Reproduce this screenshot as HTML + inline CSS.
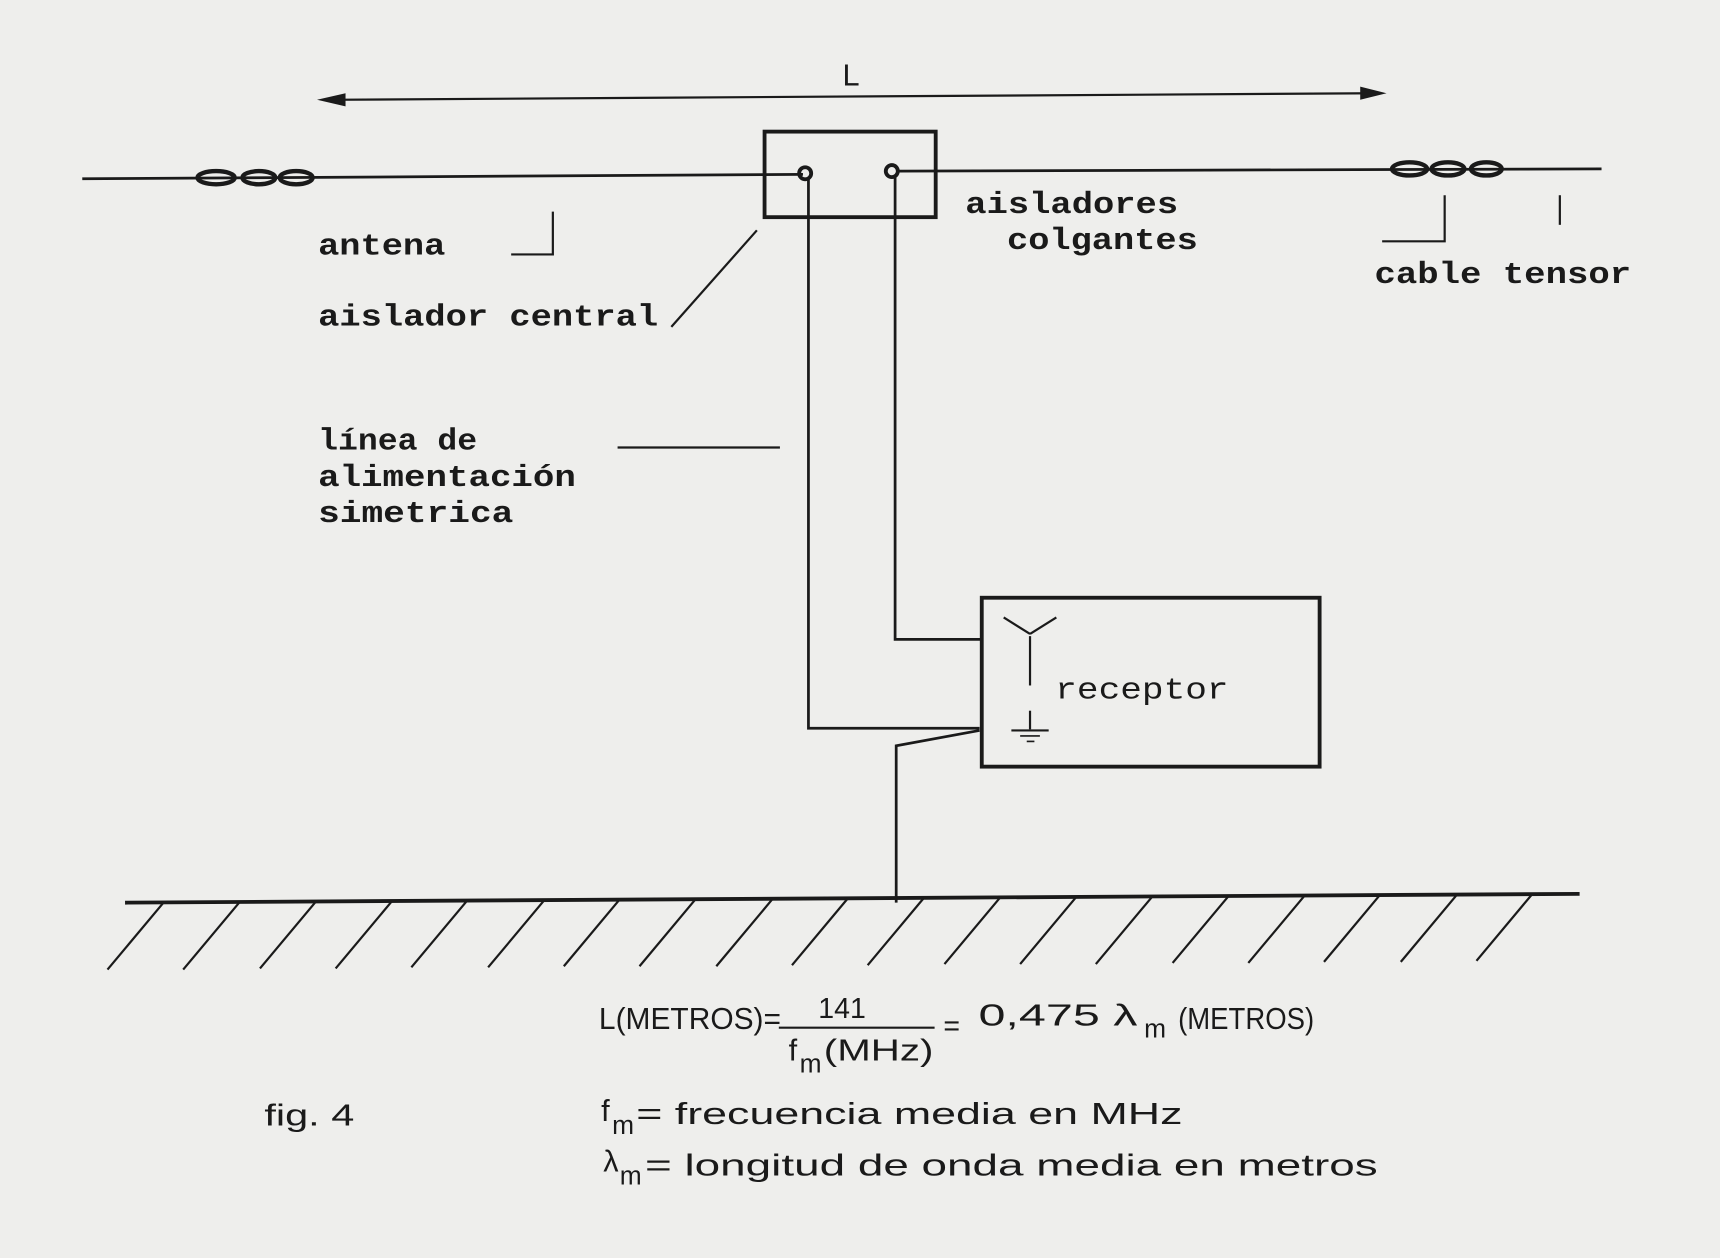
<!DOCTYPE html>
<html><head><meta charset="utf-8"><style>
html,body{margin:0;padding:0;background:#eeeeec;}
svg{display:block;}
.m{font-family:"Liberation Mono",monospace;font-weight:bold;fill:#1a1a1a;}
.s{font-family:"Liberation Sans",sans-serif;fill:#1a1a1a;}
</style></head><body>
<svg width="1720" height="1258" viewBox="0 0 1568 1147" preserveAspectRatio="none" xmlns="http://www.w3.org/2000/svg">
<rect width="1568" height="1147" fill="#eeeeec"/>
<g stroke="#1a1a1a" fill="none" stroke-width="2.5">
<line x1="300" y1="91" x2="1252" y2="85" stroke-width="2"/>
<polygon points="289,91 315,85 315,97" fill="#1a1a1a" stroke="none"/>
<polygon points="1264,85 1240,79 1240,91" fill="#1a1a1a" stroke="none"/>
<line x1="75" y1="163" x2="732" y2="159"/>
<ellipse cx="197" cy="162" rx="17" ry="6" stroke-width="4"/>
<ellipse cx="236" cy="162" rx="15" ry="6" stroke-width="4"/>
<ellipse cx="270" cy="162" rx="15" ry="6" stroke-width="4"/>
<line x1="818" y1="156" x2="1460" y2="154"/>
<ellipse cx="1285" cy="154" rx="16" ry="6" stroke-width="4"/>
<ellipse cx="1320" cy="154" rx="15" ry="6" stroke-width="4"/>
<ellipse cx="1355" cy="154" rx="14" ry="6" stroke-width="4"/>
<rect x="697" y="120" width="156" height="78" stroke-width="3.5"/>
<circle cx="734" cy="158" r="5.5" stroke-width="3.5"/>
<circle cx="813" cy="156" r="5.5" stroke-width="3.5"/>
<polyline points="737,163 737,664 893,664"/>
<polyline points="816,161 816,583 895,583"/>
<polyline points="893,666 817,680 817,823"/>
<rect x="895" y="545" width="308" height="154" stroke-width="3.5"/>
<line x1="939" y1="580" x2="939" y2="625" stroke-width="2"/>
<line x1="915" y1="563" x2="939" y2="578" stroke-width="2"/>
<line x1="963" y1="563" x2="939" y2="578" stroke-width="2"/>
<line x1="939" y1="648" x2="939" y2="665" stroke-width="2"/>
<line x1="922" y1="666" x2="956" y2="666" stroke-width="2"/>
<line x1="930" y1="671" x2="948" y2="671" stroke-width="1.5"/>
<line x1="936" y1="676" x2="943" y2="676" stroke-width="1.5"/>
<polyline points="466,232 504,232 504,193" stroke-width="2"/>
<line x1="612" y1="298" x2="690" y2="210" stroke-width="2"/>
<line x1="563" y1="408" x2="711" y2="408" stroke-width="2"/>
<polyline points="1260,220 1317,220 1317,178" stroke-width="2"/>
<line x1="1422" y1="178" x2="1422" y2="205" stroke-width="2"/>
<line x1="114" y1="823" x2="1440" y2="815" stroke-width="3.5"/>
<g stroke-width="2">
<line x1="149" y1="823" x2="98" y2="884"/>
<line x1="218" y1="823" x2="167" y2="884"/>
<line x1="288" y1="822" x2="237" y2="883"/>
<line x1="357" y1="822" x2="306" y2="883"/>
<line x1="426" y1="821" x2="375" y2="882"/>
<line x1="496" y1="821" x2="445" y2="882"/>
<line x1="565" y1="820" x2="514" y2="881"/>
<line x1="634" y1="820" x2="583" y2="881"/>
<line x1="704" y1="820" x2="653" y2="881"/>
<line x1="773" y1="819" x2="722" y2="880"/>
<line x1="842" y1="819" x2="791" y2="880"/>
<line x1="912" y1="818" x2="861" y2="879"/>
<line x1="981" y1="818" x2="930" y2="879"/>
<line x1="1050" y1="818" x2="999" y2="879"/>
<line x1="1120" y1="817" x2="1069" y2="878"/>
<line x1="1189" y1="817" x2="1138" y2="878"/>
<line x1="1258" y1="816" x2="1207" y2="877"/>
<line x1="1328" y1="816" x2="1277" y2="877"/>
<line x1="1397" y1="815" x2="1346" y2="876"/>
</g>
<line x1="710" y1="937" x2="852" y2="937" stroke-width="2"/>
</g>
<text class="s" x="768" y="78" font-size="28">L</text>
<text class="m" x="290" y="232" font-size="28" textLength="116" lengthAdjust="spacingAndGlyphs">antena</text>
<text class="m" x="290" y="297" font-size="28" textLength="310" lengthAdjust="spacingAndGlyphs">aislador central</text>
<text class="m" x="290" y="410" font-size="28" textLength="145" lengthAdjust="spacingAndGlyphs">línea de</text>
<text class="m" x="290" y="443" font-size="28" textLength="235" lengthAdjust="spacingAndGlyphs">alimentación</text>
<text class="m" x="290" y="476" font-size="28" textLength="178" lengthAdjust="spacingAndGlyphs">simetrica</text>
<text class="m" x="880" y="194" font-size="28" textLength="194" lengthAdjust="spacingAndGlyphs">aisladores</text>
<text class="m" x="918" y="227" font-size="28" textLength="174" lengthAdjust="spacingAndGlyphs">colgantes</text>
<text class="m" x="1253" y="258" font-size="28" textLength="234" lengthAdjust="spacingAndGlyphs">cable tensor</text>
<text class="m" x="962" y="637" font-size="28" textLength="158" lengthAdjust="spacingAndGlyphs" style="font-weight:normal">receptor</text>
<text class="s" x="546" y="938" font-size="28" textLength="166" lengthAdjust="spacingAndGlyphs">L(METROS)=</text>
<text class="s" x="746" y="928" font-size="26">141</text>
<text class="s" x="719" y="967" font-size="28">f</text>
<text class="s" x="729" y="978" font-size="24">m</text>
<text class="s" x="751" y="967" font-size="28" textLength="100" lengthAdjust="spacingAndGlyphs">(MHz)</text>
<text class="s" x="860" y="944" font-size="26">=</text>
<text class="s" x="892" y="935" font-size="28" textLength="145" lengthAdjust="spacingAndGlyphs">0,475 λ</text>
<text class="s" x="1043" y="946" font-size="24">m</text>
<text class="s" x="1074" y="938" font-size="28" textLength="124" lengthAdjust="spacingAndGlyphs">(METROS)</text>
<text class="s" x="241" y="1026" font-size="28" textLength="82" lengthAdjust="spacingAndGlyphs">fig. 4</text>
<text class="s" x="548" y="1022" font-size="28">f</text>
<text class="s" x="558" y="1034" font-size="24">m</text>
<text class="s" x="580" y="1025" font-size="28" textLength="498" lengthAdjust="spacingAndGlyphs">= frecuencia media en MHz</text>
<text class="s" x="550" y="1068" font-size="28">λ</text>
<text class="s" x="565" y="1080" font-size="24">m</text>
<text class="s" x="588" y="1072" font-size="28" textLength="668" lengthAdjust="spacingAndGlyphs">= longitud de onda media en metros</text>
</svg>
</body></html>
